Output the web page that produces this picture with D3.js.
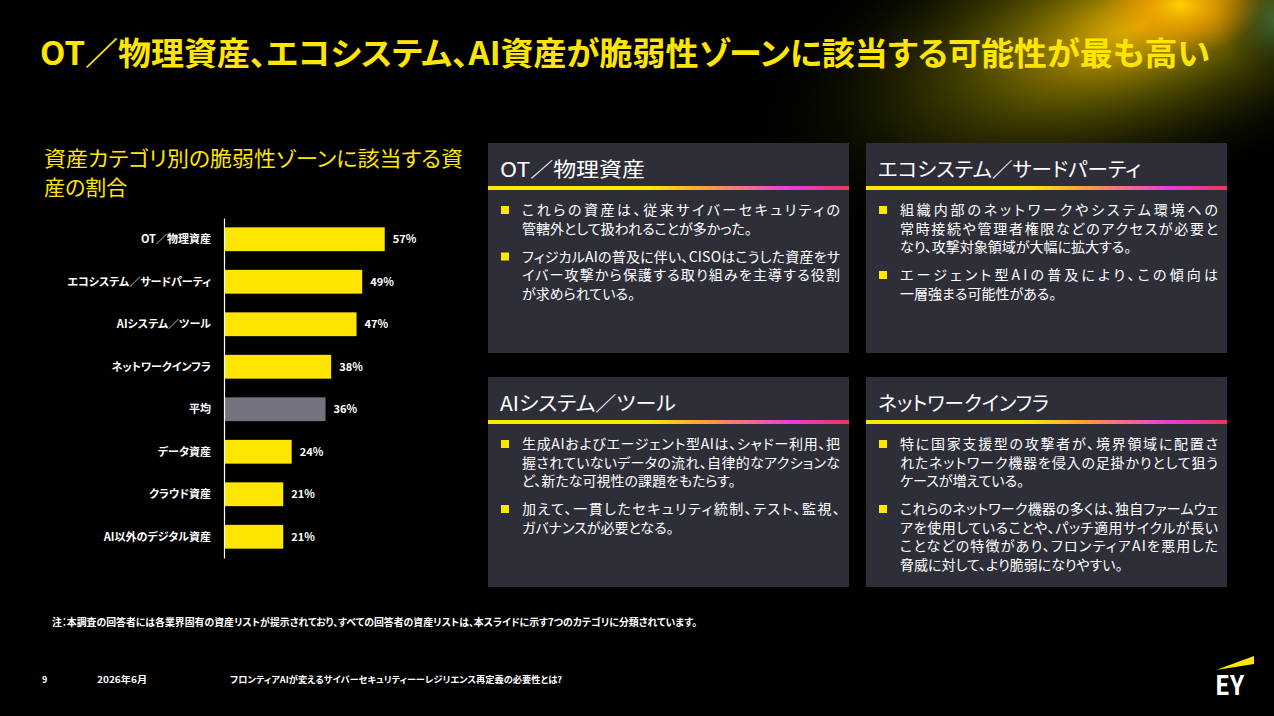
<!DOCTYPE html>
<html><head><meta charset="utf-8">
<script src="https://cdn.jsdelivr.net/npm/d3@7"></script>
<style>
html,body{margin:0;padding:0;background:#000;}
svg{display:block;}
text{font-family:"Noto Sans CJK JP","Noto Sans",sans-serif;font-feature-settings:"palt";}
</style></head>
<body>
<svg id="c" width="1274" height="716"></svg>
<script>
// ---- data ----
const categories = ["OT／物理資産","エコシステム／サードパーティ","AIシステム／ツール","ネットワークインフラ","平均","データ資産","クラウド資産","AI以外のデジタル資産"];
const values = [57,49,47,38,36,24,21,21];
const averageCategory = "平均";
const mainTitle = "OT／物理資産、エコシステム、AI資産が脆弱性ゾーンに該当する可能性が最も高い";
const chartTitleLines = ["資産カテゴリ別の脆弱性ゾーンに該当する資","産の割合"];
const cardTitles = ["OT／物理資産","エコシステム／サードパーティ","AIシステム／ツール","ネットワークインフラ"];
const cardBullets = [
  [["これらの資産は、従来サイバーセキュリティの","管轄外として扱われることが多かった。"],
   ["フィジカルAIの普及に伴い、CISOはこうした資産をサ","イバー攻撃から保護する取り組みを主導する役割","が求められている。"]],
  [["組織内部のネットワークやシステム環境への","常時接続や管理者権限などのアクセスが必要と","なり、攻撃対象領域が大幅に拡大する。"],
   ["エージェント型AIの普及により、この傾向は","一層強まる可能性がある。"]],
  [["生成AIおよびエージェント型AIは、シャドー利用、把","握されていないデータの流れ、自律的なアクションな","ど、新たな可視性の課題をもたらす。"],
   ["加えて、一貫したセキュリティ統制、テスト、監視、","ガバナンスが必要となる。"]],
  [["特に国家支援型の攻撃者が、境界領域に配置さ","れたネットワーク機器を侵入の足掛かりとして狙う","ケースが増えている。"],
   ["これらのネットワーク機器の多くは、独自ファームウェ","アを使用していることや、パッチ適用サイクルが長い","ことなどの特徴があり、フロンティアAIを悪用した","脅威に対して、より脆弱になりやすい。"]]
];
const footnote = "注：本調査の回答者には各業界固有の資産リストが提示されており、すべての回答者の資産リストは、本スライドに示す7つのカテゴリに分類されています。";
const pageNumber = "9";
const dateLabel = "2026年6月";
const footerTitle = "フロンティアAIが変えるサイバーセキュリティーーレジリエンス再定義の必要性とは?";

// ---- style ----
const YELLOW = "#FFE600", GREY = "#747480", CARD = "#2E2E38";
const svg = d3.select("#c");
const defs = svg.append("defs");

svg.append("rect").attr("width",1274).attr("height",716).attr("fill","#000");

// glow
const g1 = defs.append("radialGradient").attr("id","glow1");
[[0,"#e8b400",1],[0.15,"#c09a00",0.9],[0.4,"#7a7400",0.62],[0.7,"#343800",0.32],[1,"#000",0]]
 .forEach(s=>g1.append("stop").attr("offset",s[0]).attr("stop-color",s[1]).attr("stop-opacity",s[2]));
svg.append("ellipse").attr("cx",1140).attr("cy",25).attr("rx",420).attr("ry",175)
  .attr("transform","rotate(-18,1140,25)").attr("fill","url(#glow1)");
const g3 = defs.append("radialGradient").attr("id","glow3");
[[0,"#2f7a55",0.7],[1,"#000",0]].forEach(s=>g3.append("stop").attr("offset",s[0]).attr("stop-color",s[1]).attr("stop-opacity",s[2]));
svg.append("circle").attr("cx",1280).attr("cy",20).attr("r",60).attr("fill","url(#glow3)");
const g2 = defs.append("radialGradient").attr("id","glow2");
[[0,"#ffd000",1],[0.4,"#f0a000",0.75],[1,"#d08000",0]].forEach(s=>g2.append("stop").attr("offset",s[0]).attr("stop-color",s[1]).attr("stop-opacity",s[2]));
svg.append("ellipse").attr("cx",1180).attr("cy",5).attr("rx",80).attr("ry",50).attr("fill","url(#glow2)");

// main title
svg.append("text").attr("x",40).attr("y",65).attr("fill",YELLOW)
  .attr("font-size",32).attr("font-weight",700)
  .attr("textLength",1170).attr("lengthAdjust","spacingAndGlyphs").text(mainTitle);

// chart title
svg.append("text").attr("x",44).attr("y",166).attr("fill",YELLOW).attr("font-size",21)
  .attr("textLength",419).attr("lengthAdjust","spacingAndGlyphs").text(chartTitleLines[0]);
svg.append("text").attr("x",44).attr("y",195).attr("fill",YELLOW).attr("font-size",21)
  .text(chartTitleLines[1]);

// bar chart
const x = d3.scaleLinear().domain([0,100]).range([224,224+282]);
const y = d3.scaleBand().domain(categories).range([218,558]).paddingInner(0.44).paddingOuter(0.22);
const data = categories.map((c,i)=>({c, v:values[i]}));
svg.append("g").selectAll("rect").data(data).join("rect")
  .attr("x",x(0)).attr("y",d=>y(d.c)).attr("width",d=>x(d.v)-x(0)).attr("height",y.bandwidth())
  .attr("fill",d=>d.c===averageCategory?GREY:YELLOW);
svg.append("g").selectAll("text").data(data).join("text")
  .attr("x",d=>x(d.v)+8).attr("y",d=>y(d.c)+y.bandwidth()/2+4)
  .attr("fill","#fff").attr("font-size",11).attr("font-weight",700)
  .text(d=>d.v+"%");
const ax = svg.append("g").attr("transform",`translate(${x(0)},0)`)
  .call(d3.axisLeft(y).tickSize(0).tickPadding(13));
ax.select(".domain").attr("stroke","#fff").attr("stroke-width",1.2);
ax.selectAll("text").attr("fill","#fff").attr("font-size",11).attr("font-weight",700)
  .attr("font-family",'"Noto Sans CJK JP",sans-serif').attr("dy","0.36em");

// cards
const lg = defs.append("linearGradient").attr("id","lineGrad").attr("x1","0").attr("x2","1");
[[0,"#FFE600"],[0.45,"#FFE600"],[0.6,"#F8A23A"],[0.72,"#F36C8C"],[0.84,"#E93DE0"],[1,"#E8385A"]]
  .forEach(s=>lg.append("stop").attr("offset",s[0]).attr("stop-color",s[1]));
const cardPos = [[488,143],[866,143],[488,377],[866,377]];
const cardW = 361, cardH = 210, textW = 318;
const titleWidths = [145,263,176,171];
const lineH = 18.5, paraGap = 28;
cardPos.forEach((p,i)=>{
  const g = svg.append("g").attr("transform",`translate(${p[0]},${p[1]})`);
  g.append("rect").attr("width",cardW).attr("height",cardH).attr("fill",CARD);
  g.append("text").attr("x",12).attr("y",34).attr("fill","#fff").attr("font-size",20)
    .attr("textLength",titleWidths[i]).attr("lengthAdjust","spacingAndGlyphs").text(cardTitles[i]);
  g.append("rect").attr("x",0).attr("y",43).attr("width",cardW).attr("height",4).attr("fill","url(#lineGrad)");
  let cy = 67;
  cardBullets[i].forEach((para,pi)=>{
    if(pi>0) cy += paraGap;
    g.append("rect").attr("x",13).attr("y",cy-4).attr("width",8).attr("height",8).attr("fill",YELLOW);
    para.forEach((line,li)=>{
      if(li>0) cy += lineH;
      const t = g.append("text").attr("x",34).attr("y",cy+5.2).attr("fill","#fff").attr("font-size",14).text(line);
      if(li<para.length-1) t.attr("textLength",textW).attr("lengthAdjust","spacing");
    });
  });
});

// footnote & footer
svg.append("text").attr("x",52).attr("y",626).attr("fill","#fff").attr("font-size",10).attr("font-weight",700)
  .attr("textLength",645).attr("lengthAdjust","spacingAndGlyphs").text(footnote);
svg.append("text").attr("x",42).attr("y",683).attr("fill","#fff").attr("font-size",9).attr("font-weight",700).text(pageNumber);
svg.append("text").attr("x",97).attr("y",683).attr("fill","#fff").attr("font-size",9).attr("font-weight",700)
  .attr("textLength",50).attr("lengthAdjust","spacingAndGlyphs").text(dateLabel);
svg.append("text").attr("x",230).attr("y",683).attr("fill","#fff").attr("font-size",9).attr("font-weight",700)
  .attr("textLength",332).attr("lengthAdjust","spacingAndGlyphs").text(footerTitle);

// EY logo
svg.append("polygon").attr("points","1216,670 1254,656 1254,664").attr("fill",YELLOW);
svg.append("text").attr("x",1215).attr("y",695).attr("fill","#fff").attr("font-size",27).attr("font-weight",700)
  .attr("font-family","'Liberation Sans',Arial,sans-serif")
  .attr("textLength",29).attr("lengthAdjust","spacingAndGlyphs").text("EY");
</script>
</body></html>
